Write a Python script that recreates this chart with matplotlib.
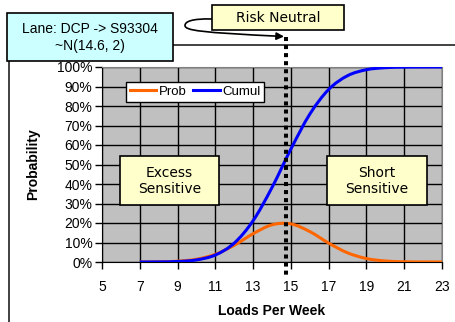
import matplotlib
matplotlib.use("Agg")
import matplotlib.pyplot as plt
import matplotlib.patches as patches
from matplotlib.path import Path
from matplotlib.ticker import PercentFormatter
import numpy as np

plt.rcParams['font.family'] = ['Liberation Sans', 'DejaVu Sans']

# weekly loads and the N(14.6, 2) distribution
loads = [7, 8, 9, 10, 11, 12, 13, 14, 15, 16, 17, 18, 19, 20, 21, 22, 23]
prob = [0.0001, 0.0009, 0.0040, 0.0142, 0.0395, 0.0857, 0.1450, 0.1907, 0.1955,
        0.1561, 0.0969, 0.0470, 0.0177, 0.0052, 0.0012, 0.0002, 0.0000]
cumul = [0.0001, 0.0005, 0.0026, 0.0107, 0.0359, 0.0968, 0.2119, 0.3821, 0.5793,
         0.7580, 0.8849, 0.9554, 0.9861, 0.9965, 0.9993, 0.9999, 1.0000]
x_ticks = [5, 7, 9, 11, 13, 15, 17, 19, 21, 23]

W, H = 456, 322
fig = plt.figure(figsize=(W / 100, H / 100), dpi=100)
fig.patch.set_facecolor('white')


def smooth_path(xs, ys):
    # smoothed line as cubic bezier segments (catmull-rom style tangents)
    pts = np.column_stack([xs, ys]).astype(float)
    n = len(pts)
    tang = np.zeros_like(pts)
    for i in range(n):
        a = pts[max(i - 1, 0)]
        b = pts[min(i + 1, n - 1)]
        tang[i] = (b - a) / 2.0
    verts = [pts[0]]
    codes = [Path.MOVETO]
    for i in range(n - 1):
        verts += [pts[i] + tang[i] / 3, pts[i + 1] - tang[i + 1] / 3, pts[i + 1]]
        codes += [Path.CURVE4] * 3
    return Path(verts, codes)


# main chart area
ax = fig.add_axes([102 / W, 1 - 262 / H, 340 / W, 195 / H])
ax.set_facecolor('#C0C0C0')
ax.set_xlim(5, 23)
ax.set_ylim(0, 1)
ax.set_xticks(x_ticks)
ax.set_yticks(np.arange(0, 1.01, 0.1))
ax.yaxis.set_major_formatter(PercentFormatter(1.0, decimals=0))
ax.grid(True, color='black', lw=1.0)
ax.set_axisbelow(True)
for s in ['top', 'right']:
    ax.spines[s].set_color('#808080')
for s in ['left', 'bottom']:
    ax.spines[s].set_color('black')
ax.tick_params(direction='out', length=5, width=1, labelsize=10, pad=2)
ax.tick_params(axis='x', pad=8)
ax.set_xlabel('Loads Per Week', fontsize=10, fontweight='bold', labelpad=7)
ax.set_ylabel('Probability', fontsize=10, fontweight='bold', labelpad=12)

ax.add_patch(patches.PathPatch(smooth_path(loads, prob), fill=False,
                               edgecolor='#FF6600', lw=2.2, zorder=3))
ax.add_patch(patches.PathPatch(smooth_path(loads, cumul), fill=False,
                               edgecolor='#0000FF', lw=2.2, zorder=4))
h1, = ax.plot([], [], color='#FF6600', lw=2.2, label='Prob')
h2, = ax.plot([], [], color='#0000FF', lw=2.2, label='Cumul')
leg = ax.legend(handles=[h1, h2], loc='upper left', bbox_to_anchor=(0.07, 0.925),
                ncol=2, fontsize=9.5, frameon=True, fancybox=False, framealpha=1,
                edgecolor='black', handlelength=2.0, handletextpad=0.2,
                columnspacing=0.5, borderpad=0.3, borderaxespad=0)
leg.get_frame().set_linewidth(1.0)

# overlay in pixel coordinates for the callouts
ov = fig.add_axes([0, 0, 1, 1])
ov.set_xlim(0, W)
ov.set_ylim(H, 0)
ov.axis('off')
ov.patch.set_alpha(0)

# frame lines
ov.plot([173, W], [44.5, 44.5], color='#333333', lw=1.3)
ov.plot([9.5, 9.5], [61, H], color='#333333', lw=1.3)

# risk neutral marker
ov.plot([286, 286], [37, 277], color='black', lw=2.9, linestyle=(0, (1, 1)),
        dash_capstyle='butt')


def label_box(x0, y0, x1, y1, fc, text, family, size, linesp=1.2):
    ov.add_patch(patches.Rectangle((x0, y0), x1 - x0, y1 - y0, facecolor=fc,
                                   edgecolor='black', lw=1.2, zorder=5))
    ov.text((x0 + x1) / 2, (y0 + y1) / 2 + 0.5, text, ha='center', va='center',
            fontsize=size, family=family, linespacing=linesp, zorder=6)


label_box(7, 13, 173, 61, '#CCFFFF', 'Lane: DCP -> S93304\n~N(14.6, 2)',
          ['Liberation Sans'], 10, 1.3)
label_box(212, 5, 344, 30, '#FFFFCC', 'Risk Neutral', ['DejaVu Sans'], 10)
label_box(120, 156, 219, 205, '#FFFFCC', 'Excess\nSensitive', ['DejaVu Sans'], 10, 1.25)
label_box(327, 156, 427, 205, '#FFFFCC', 'Short\nSensitive', ['DejaVu Sans'], 10, 1.25)

# curved connector from the label to the marker
conn = Path([(212, 19), (192, 18.5), (185, 21.5), (185, 25.5),
             (185, 30.5), (200, 32.5), (284, 36.5)],
            [Path.MOVETO, Path.CURVE4, Path.CURVE4, Path.CURVE4,
             Path.CURVE4, Path.CURVE4, Path.CURVE4])
ov.add_patch(patches.FancyArrowPatch(path=conn, arrowstyle='-|>', mutation_scale=11,
                                     color='black', lw=1.2, zorder=4))

fig.savefig('out.png', dpi=100)
